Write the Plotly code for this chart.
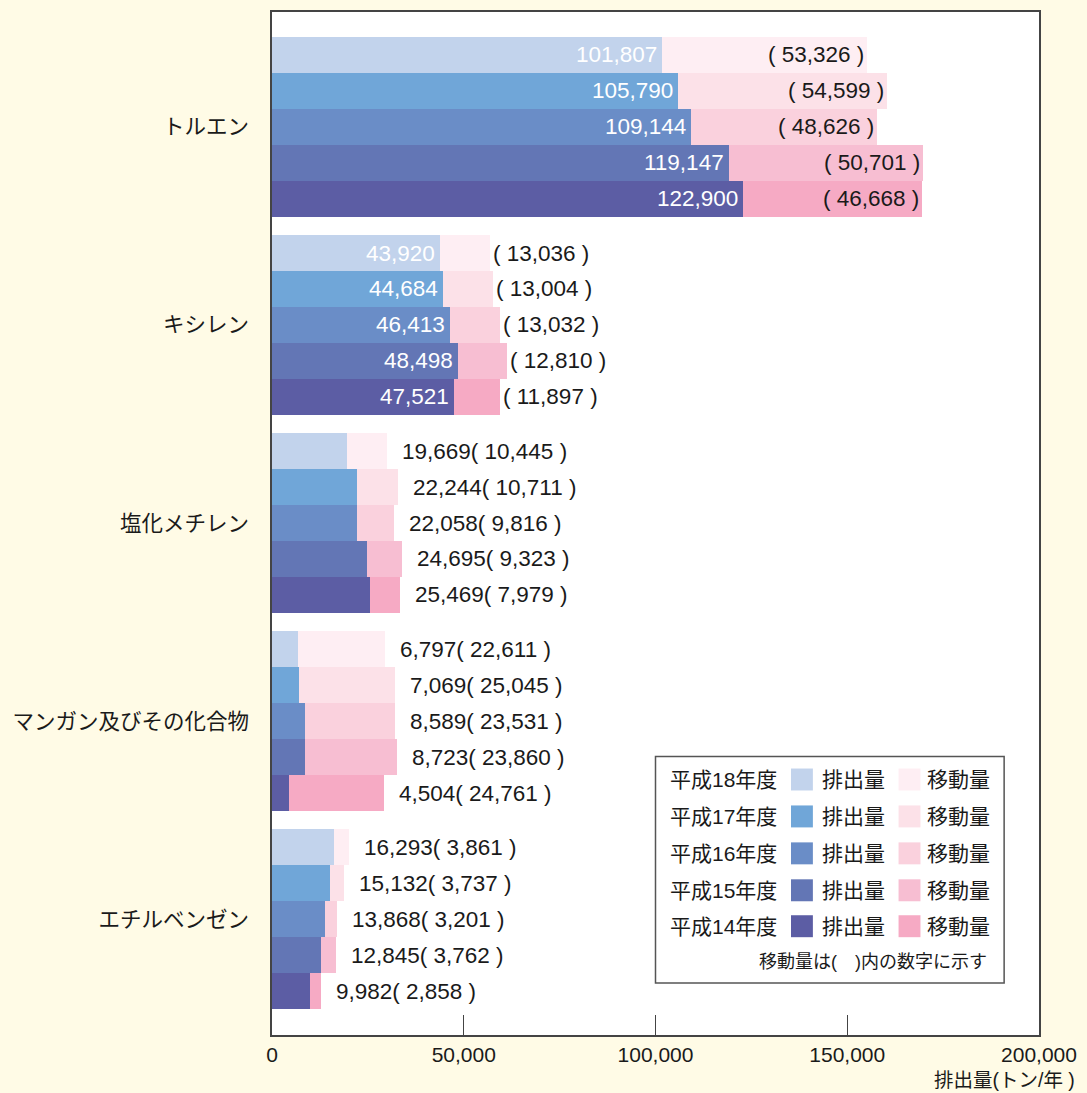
import plotly.graph_objects as go

# ---------------- data ----------------
chemicals = ["トルエン", "キシレン", "塩化メチレン", "マンガン及びその化合物", "エチルベンゼン"]
years = ["平成18年度", "平成17年度", "平成16年度", "平成15年度", "平成14年度"]

emission_toluene = [101807, 105790, 109144, 119147, 122900]
transfer_toluene = [53326, 54599, 48626, 50701, 46668]
emission_xylene = [43920, 44684, 46413, 48498, 47521]
transfer_xylene = [13036, 13004, 13032, 12810, 11897]
emission_methylene = [19669, 22244, 22058, 24695, 25469]
transfer_methylene = [10445, 10711, 9816, 9323, 7979]
emission_manganese = [6797, 7069, 8589, 8723, 4504]
transfer_manganese = [22611, 25045, 23531, 23860, 24761]
emission_ethylbenzene = [16293, 15132, 13868, 12845, 9982]
transfer_ethylbenzene = [3861, 3737, 3201, 3762, 2858]

x_tick_values = [0, 50000, 100000, 150000, 200000]
x_tick_labels = ["0", "50,000", "100,000", "150,000", "200,000"]

emissions = [emission_toluene, emission_xylene, emission_methylene, emission_manganese, emission_ethylbenzene]
transfers = [transfer_toluene, transfer_xylene, transfer_methylene, transfer_manganese, transfer_ethylbenzene]
# how the value labels are shown for each chemical
label_style = ["inside", "inside_after", "combined", "combined", "combined"]

emission_colors = ["#C2D3EC", "#70A6D8", "#6A8DC7", "#6376B5", "#5C5DA4"]
transfer_colors = ["#FEEEF3", "#FCE1E8", "#FAD1DD", "#F7BED2", "#F6AAC4"]

# ---------------- layout constants ----------------
FONT = "Liberation Sans, Arial, Noto Sans CJK JP, sans-serif"
BG = "#FFFBE6"
PITCH = 5.514          # group pitch in bar units
TOP_PAD = 0.694
RANGE_LEN = 28.47
L, R, T, B = 272, 45, 10, 58
W, H = 1087, 1093
PW, PH = W - L - R, H - T - B
LABEL_SIZE = 22.5


def ypos(i, j):
    return i * PITCH + j + 0.5


def px(xp):
    return (xp - L) / PW


def py(yp):
    return (T + PH - yp) / PH


fig = go.Figure()

for j, yr in enumerate(years):
    ys = [ypos(i, j) for i in range(len(chemicals))]
    fig.add_trace(go.Bar(
        orientation="h", y=ys, x=[emissions[i][j] for i in range(len(chemicals))],
        width=1, marker=dict(color=emission_colors[j], line=dict(width=0)),
        name=yr + " 排出量", showlegend=False, hoverinfo="x"))
    fig.add_trace(go.Bar(
        orientation="h", y=ys, x=[transfers[i][j] for i in range(len(chemicals))],
        width=1, marker=dict(color=transfer_colors[j], line=dict(width=0)),
        name=yr + " 移動量", showlegend=False, hoverinfo="x"))

annotations = []
lab_font = dict(family=FONT, size=LABEL_SIZE, color="#1a1a1a")
white_font = dict(family=FONT, size=LABEL_SIZE, color="#FFFFFF")
for i, chem in enumerate(chemicals):
    for j in range(len(years)):
        e = emissions[i][j]
        t = transfers[i][j]
        y = ypos(i, j)
        style = label_style[i]
        if style in ("inside", "inside_after"):
            annotations.append(dict(x=e, y=y, xref="x", yref="y", text=f"{e:,}",
                                    xanchor="right", yanchor="middle", xshift=-3,
                                    showarrow=False, font=white_font))
            if style == "inside":
                annotations.append(dict(x=e + t, y=y, xref="x", yref="y", text=f"( {t:,} )",
                                        xanchor="right", yanchor="middle", xshift=-1,
                                        showarrow=False, font=lab_font))
            else:
                annotations.append(dict(x=e + t, y=y, xref="x", yref="y", text=f"( {t:,} )",
                                        xanchor="left", yanchor="middle", xshift=1,
                                        showarrow=False, font=lab_font))
        else:
            annotations.append(dict(x=e + t, y=y, xref="x", yref="y", text=f"{e:,}( {t:,} )",
                                    xanchor="left", yanchor="middle", xshift=13,
                                    showarrow=False, font=lab_font))

# axis title
annotations.append(dict(x=px(1080), y=py(1080), xref="paper", yref="paper", text="排出量(トン/年 )",
                        xanchor="right", yanchor="middle", showarrow=False,
                        font=dict(family=FONT, size=19.5, color="#1a1a1a")))

# ---------------- custom legend box ----------------
shapes = [dict(type="rect", xref="paper", yref="paper", x0=px(657), x1=px(1007), y0=py(983), y1=py(756),
               fillcolor="#FFFFFF", line=dict(color="#555555", width=1.5), layer="above")]
row_y = [779, 816, 853, 890, 926]
leg_font = dict(family=FONT, size=21, color="#1a1a1a")
for j, yr in enumerate(years):
    yc = row_y[j]
    annotations.append(dict(x=px(670), y=py(yc), xref="paper", yref="paper", text=yr,
                            xanchor="left", yanchor="middle", showarrow=False, font=leg_font))
    shapes.append(dict(type="rect", xref="paper", yref="paper", x0=px(793), x1=px(815),
                       y0=py(yc + 11), y1=py(yc - 11), fillcolor=emission_colors[j],
                       line=dict(width=0), layer="above"))
    annotations.append(dict(x=px(822), y=py(yc), xref="paper", yref="paper", text="排出量",
                            xanchor="left", yanchor="middle", showarrow=False, font=leg_font))
    shapes.append(dict(type="rect", xref="paper", yref="paper", x0=px(901), x1=px(923),
                       y0=py(yc + 11), y1=py(yc - 11), fillcolor=transfer_colors[j],
                       line=dict(width=0), layer="above"))
    annotations.append(dict(x=px(928), y=py(yc), xref="paper", yref="paper", text="移動量",
                            xanchor="left", yanchor="middle", showarrow=False, font=leg_font))
annotations.append(dict(x=px(992), y=py(962), xref="paper", yref="paper",
                        text="移動量は(\u3000)内の数字に示す",
                        xanchor="right", yanchor="middle", showarrow=False,
                        font=dict(family=FONT, size=18, color="#1a1a1a")))

fig.update_layout(
    width=W, height=H,
    margin=dict(l=L, r=R, t=T, b=B),
    paper_bgcolor=BG, plot_bgcolor="#FFFFFF",
    barmode="stack", bargap=0,
    showlegend=False,
    font=dict(family=FONT, size=21, color="#1a1a1a"),
    annotations=annotations, shapes=shapes,
)
fig.update_xaxes(range=[0, 200000], tickvals=x_tick_values, ticktext=x_tick_labels,
                 ticks="inside", ticklen=20, tickcolor="#444444", tickwidth=1.2,
                 showgrid=False, zeroline=False, showline=True, mirror=True,
                 linecolor="#444444", linewidth=1.5,
                 tickfont=dict(family=FONT, size=21, color="#1a1a1a"))
fig.update_yaxes(range=[RANGE_LEN - TOP_PAD, -TOP_PAD],
                 tickvals=[ypos(i, 2) for i in range(len(chemicals))], ticktext=chemicals,
                 ticks="", showgrid=False, zeroline=False, showline=True, mirror=True,
                 linecolor="#444444", linewidth=1.5, ticklabelstandoff=17,
                 tickfont=dict(family=FONT, size=21.5, color="#1a1a1a"))

fig.write_html(
    "out.html",
    config={"displayModeBar": False},
    post_script="document.body.style.margin='0';document.body.style.overflow='hidden';"
                "document.body.style.background='" + BG + "';",
)
